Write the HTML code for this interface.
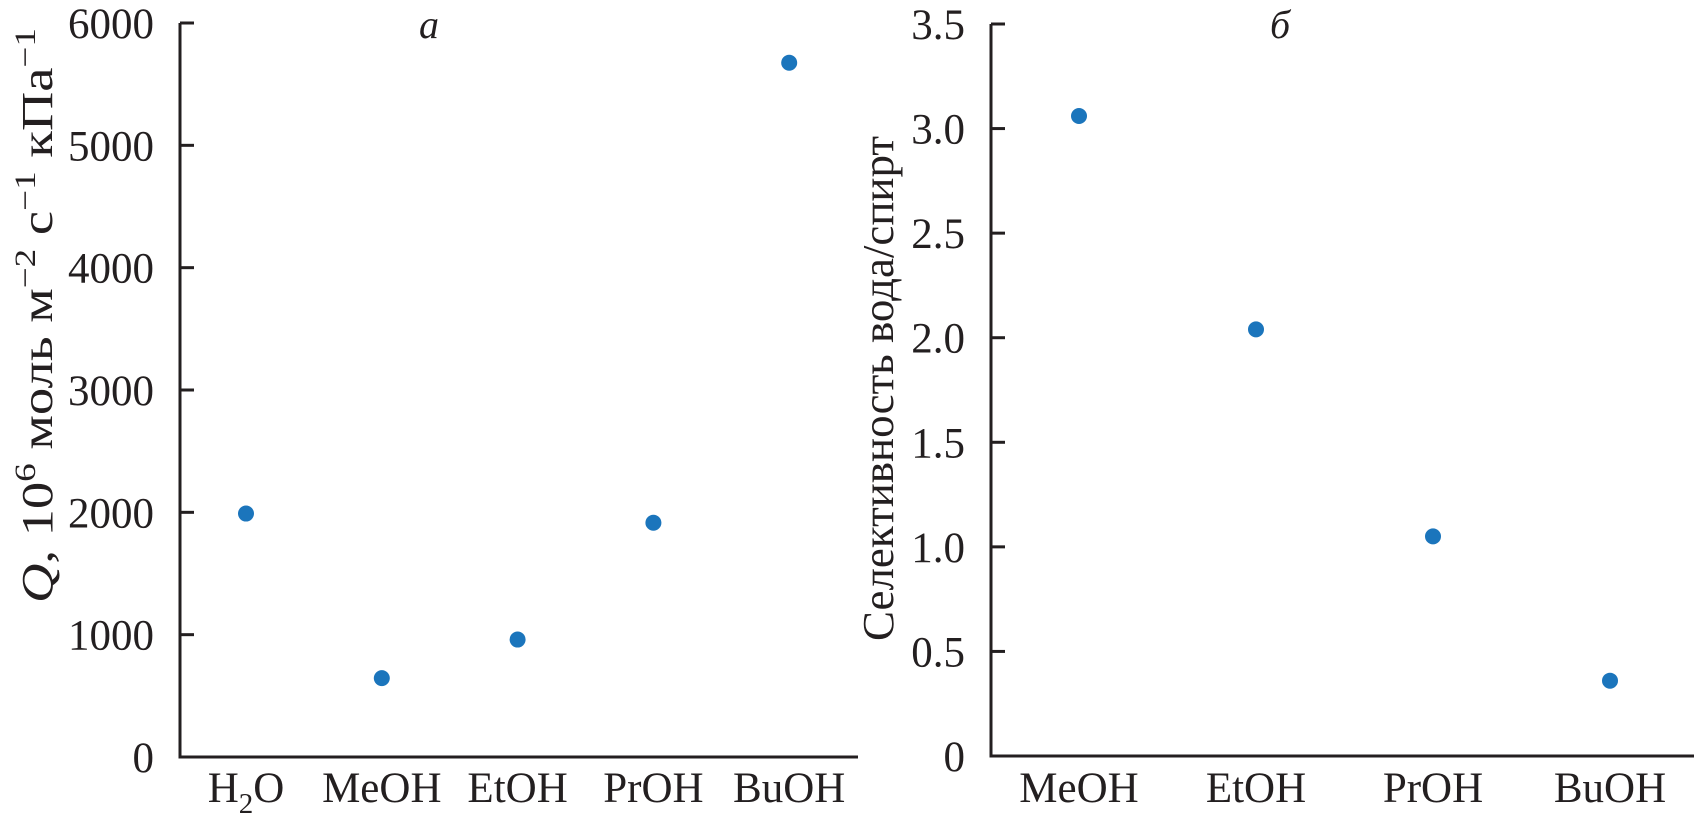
<!DOCTYPE html>
<html><head><meta charset="utf-8"><style>
html,body{margin:0;padding:0;background:#fff;}
svg{display:block;}
text{font-family:"Liberation Serif",serif;fill:#231f20;}
</style></head><body>
<svg id="chart" width="1694" height="823" viewBox="0 0 1694 823" xmlns="http://www.w3.org/2000/svg">
<g id="pa"></g>
<g id="pb"></g>
<text x="429" y="38" font-size="40" font-style="italic" text-anchor="middle">a</text>
<text x="1280" y="38" font-size="40" font-style="italic" text-anchor="middle">б</text>
<text transform="translate(52,603) rotate(-90)" font-size="44" textLength="575" lengthAdjust="spacingAndGlyphs"><tspan font-style="italic">Q</tspan>, 10<tspan font-size="30" dy="-17">6</tspan><tspan dy="17"> моль м</tspan><tspan font-size="30" dy="-17">−2</tspan><tspan dy="17"> с</tspan><tspan font-size="30" dy="-17">−1</tspan><tspan dy="17"> кПа</tspan><tspan font-size="30" dy="-17">−1</tspan></text>
<text transform="translate(893,641) rotate(-90)" font-size="44" textLength="505" lengthAdjust="spacingAndGlyphs">Селективность вода/спирт</text>
</svg>
<script>
const catsA = ["H2O","MeOH","EtOH","PrOH","BuOH"];
const valsA = [1990, 645, 960, 1915, 5675];
const ticksA = [0,1000,2000,3000,4000,5000,6000];
const catsB = ["MeOH","EtOH","PrOH","BuOH"];
const valsB = [3.06, 2.04, 1.05, 0.36];
const ticksB = [0,0.5,1.0,1.5,2.0,2.5,3.0,3.5];
const tickLabelsB = ["0","0.5","1.0","1.5","2.0","2.5","3.0","3.5"];

const NS="http://www.w3.org/2000/svg";
function mk(tag, attrs, parent){const e=document.createElementNS(NS,tag);for(const k in attrs)e.setAttribute(k,attrs[k]);parent.appendChild(e);return e;}

function panel(g, cfg){
  const y=v=>cfg.y0-(v-cfg.vmin)/(cfg.vmax-cfg.vmin)*(cfg.y0-cfg.y1);
  const x=i=>cfg.cx0+i*cfg.step;
  const ax=mk('path',{d:`M${cfg.ax},${cfg.y1} V${cfg.y0} H${cfg.xend}`,fill:'none',stroke:'#231f20','stroke-width':3},g);
  
  
  cfg.ticks.forEach((t,i)=>{
    if(i>0){const tk=mk('line',{x1:cfg.ax,x2:cfg.ax+14,y1:y(t),y2:y(t),stroke:'#231f20','stroke-width':3},g);
    
    }
    const tl=mk('text',{x:cfg.ax-26,y:y(t)+15,'font-size':43,'text-anchor':'end'},g);
    
    
    tl.textContent=cfg.tickLabels[i];
  });
  cfg.cats.forEach((c,i)=>{
    const t=mk('text',{x:x(i),y:802,'font-size':43,'text-anchor':'middle'},g);
    
    
    if(c==="H2O"){t.innerHTML='H<tspan font-size="29" dy="11">2</tspan><tspan dy="-11">O</tspan>';}
    else t.textContent=c;
    const d=mk('circle',{cx:x(i),cy:y(cfg.vals[i]),r:8,fill:'#1b75bc'},g);
    
    
  });
}
panel(document.getElementById('pa'),{ax:180,y0:757,y1:23,vmin:0,vmax:6000,xend:858,cx0:246,step:135.8,cats:catsA,vals:valsA,ticks:ticksA,tickLabels:ticksA.map(String)});
panel(document.getElementById('pb'),{ax:991,y0:756,y1:24,vmin:0,vmax:3.5,xend:1694,cx0:1079,step:177,cats:catsB,vals:valsB,ticks:ticksB,tickLabels:tickLabelsB});
</script>
</body></html>
